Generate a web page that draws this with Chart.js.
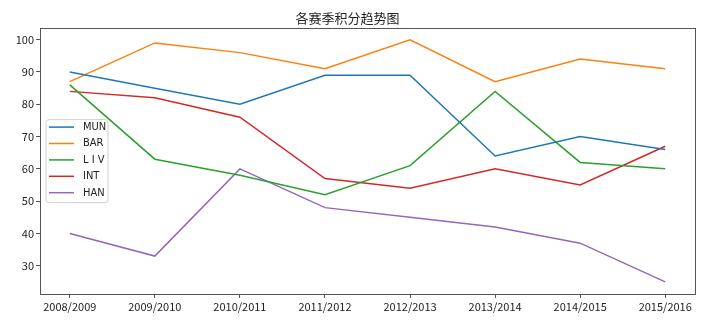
<!DOCTYPE html>
<html>
<head>
<meta charset="utf-8">
<script src="https://cdn.jsdelivr.net/npm/chart.js@4/dist/chart.umd.min.js"></script>
<style>
html,body{margin:0;padding:0;background:#fff;}
#wrap{width:707px;height:322px;position:relative;}
</style>
</head>
<body>
<div id="wrap"><canvas id="c" width="707" height="322"></canvas></div>
<script>
const title = '各赛季积分趋势图';
const seasons = ['2008/2009','2009/2010','2010/2011','2011/2012','2012/2013','2013/2014','2014/2015','2015/2016'];
const yTicks = [30,40,50,60,70,80,90,100];
const MUN = [90,85,80,89,89,64,70,66];
const BAR = [87,99,96,91,100,87,94,91];
const LIV = [86,63,58,52,61,84,62,60];
const INT = [84,82,76,57,54,60,55,67];
const HAN = [40,33,60,48,45,42,37,25];
const seriesNames = ['MUN','BAR','LIV','INT','HAN'];
const seriesValues = [MUN,BAR,LIV,INT,HAN];
const colors = ['#1f77b4','#ff7f0e','#2ca02c','#d62728','#9467bd'];

const FONT = '"Noto Sans CJK SC", "DejaVu Sans", sans-serif';
const NARROW = '"Liberation Sans Narrow", "DejaVu Sans Condensed", "Noto Sans CJK SC", sans-serif';

const datasets = seriesNames.map((n,i)=>({
  label:n,
  data: seriesValues[i].map((v,j)=>({x:j,y:v})),
  borderColor: colors[i],
  backgroundColor: colors[i],
  borderWidth: 1.5,
  pointRadius: 0,
  fill:false,
  tension:0
}));

const framePlugin = {
  id:'frame',
  afterDraw(chart){
    const {ctx, chartArea:a} = chart;
    ctx.save();
    ctx.strokeStyle = '#555';
    ctx.lineWidth = 1;
    ctx.strokeRect(Math.round(a.left)+0.5, Math.round(a.top)+0.5, Math.round(a.right-a.left), Math.round(a.bottom-a.top));
    // legend
    const x0 = a.left + 6, y0 = a.top + 92;
    const w = 62, h = 83;
    ctx.fillStyle = 'rgba(255,255,255,0.8)';
    ctx.strokeStyle = '#d0d0d0';
    ctx.beginPath();
    const r = 3;
    ctx.moveTo(x0+r,y0); ctx.lineTo(x0+w-r,y0); ctx.quadraticCurveTo(x0+w,y0,x0+w,y0+r);
    ctx.lineTo(x0+w,y0+h-r); ctx.quadraticCurveTo(x0+w,y0+h,x0+w-r,y0+h);
    ctx.lineTo(x0+r,y0+h); ctx.quadraticCurveTo(x0,y0+h,x0,y0+h-r);
    ctx.lineTo(x0,y0+r); ctx.quadraticCurveTo(x0,y0,x0+r,y0);
    ctx.closePath(); ctx.fill(); ctx.stroke();
    chart.data.datasets.forEach((ds,i)=>{
      const yy = y0 + 7.5 + i*16.4;
      ctx.strokeStyle = ds.borderColor;
      ctx.lineWidth = 1.5;
      ctx.beginPath(); ctx.moveTo(x0+3, yy); ctx.lineTo(x0+28, yy); ctx.stroke();
      ctx.fillStyle = '#222';
      ctx.font = '11px ' + NARROW;
      ctx.textBaseline = 'middle';
      ctx.textAlign = 'left';
      const t = ds.label.split('').join(ds.label==='LIV' ? ' ' : '');
      ctx.fillText(t, x0+37, yy);
    });
    ctx.restore();
  }
};

new Chart(document.getElementById('c'), {
  type:'line',
  data:{datasets},
  options:{
    responsive:false,
    animation:false,
    layout:{padding:{left:0,right:12,top:0,bottom:0}},
    plugins:{
      legend:{display:false},
      tooltip:{enabled:false},
      title:{display:true,text:title,color:'#222',font:{family:FONT,size:13,weight:'normal'},padding:{top:10,bottom:2}}
    },
    scales:{
      x:{
        type:'linear', min:-0.35, max:7.35,
        afterBuildTicks(s){ s.ticks = seasons.map((_,i)=>({value:i})); },
        afterFit(s){ s.height = 28; },
        ticks:{callback:(v)=>seasons[v], color:'#222', font:{family:FONT,size:11}, maxRotation:0, autoSkip:false, padding:2},
        grid:{drawOnChartArea:false, drawTicks:true, tickLength:4, color:'#555'},
        border:{display:false}
      },
      y:{
        type:'linear', min:21.25, max:103.75,
        afterBuildTicks(s){ s.ticks = yTicks.map(v=>({value:v})); },
        afterFit(s){ s.width = 40; },
        ticks:{color:'#222', font:{family:FONT,size:11}, padding:2},
        grid:{drawOnChartArea:false, drawTicks:true, tickLength:4, color:'#555'},
        border:{display:false}
      }
    }
  },
  plugins:[framePlugin]
});
</script>
</body>
</html>
